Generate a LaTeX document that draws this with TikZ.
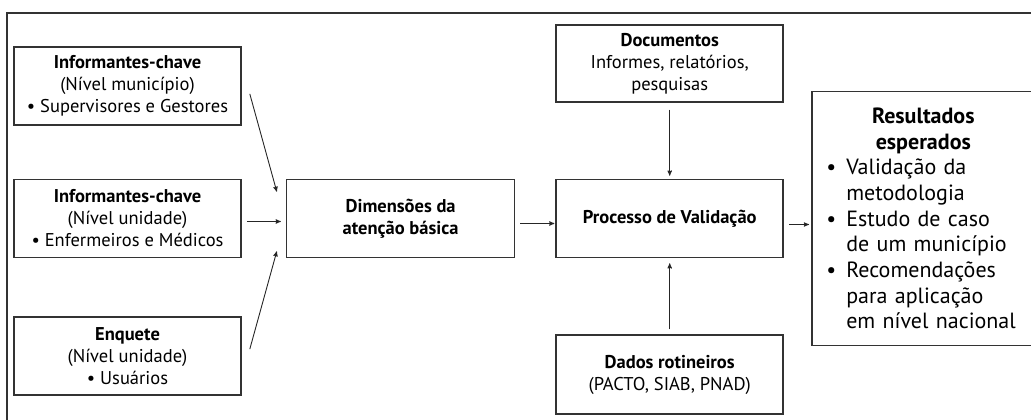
\documentclass[tikz,border=0pt]{standalone}
\usepackage{fontspec}
\setmainfont{PT Sans}
\usetikzlibrary{arrows,positioning}

\newcommand{\rbul}{\makebox[20pt][l]{•}}
\newcommand{\rind}{\hspace*{20pt}}

\begin{document}
\begin{tikzpicture}[x=1pt,y=-1pt,>=stealth',semithick,
    box/.style={draw=black!80,line width=1.6pt,minimum width=227pt,
                minimum height=78pt,align=center,inner sep=2pt,
                font=\fontsize{18.5}{22}\selectfont},
    resbox/.style={draw=black!80,line width=1.6pt,minimum width=223pt,
                   minimum height=254pt,text width=194pt,align=left,
                   inner sep=2pt,font=\fontsize{22}{25.7}\selectfont},
    link/.style={->,line width=0.9pt,draw=black!85}]

  \useasboundingbox (0,0) rectangle (1031,420);
  \draw[line width=1.3pt,black!80] (1035,13) -- (7,13) -- (7,424);

  % entradas
  \node[box]              (B) at (127.5,218.5)
      {\textbf{Informantes-chave}\\(Nível unidade)\\• Enfermeiros e Médicos};
  \node[box]              (A) [above=53pt of B]
      {\textbf{Informantes-chave}\\(Nível município)\\• Supervisores e Gestores};
  \node[box]              (C) [below=58pt of B]
      {\textbf{Enquete}\\(Nível unidade)\\• Usuários};

  \node[box,minimum width=228pt] (D) [right=44pt of B]
      {\textbf{Dimensões da}\\\textbf{atenção básica}};
  \node[box]              (E) [right=40pt of D] {\textbf{Processo de Validação}};
  \node[box,minimum height=77pt] (F) [above=76pt of E]
      {\textbf{Documentos}\\Informes, relatórios,\\pesquisas};
  \node[box,minimum height=79pt] (G) [below=76pt of E]
      {\textbf{Dados rotineiros}\\(PACTO, SIAB, PNAD)};

  % resultados
  \node[resbox]           (H) [right=27pt of E]
      {\makebox[194pt]{\bfseries Resultados}\\
       \makebox[194pt]{\bfseries esperados}\\
       \rbul Validação da\\
       \rind metodologia\\
       \rbul Estudo de caso\\
       \rind de um município\\
       \rbul Recomendações\\
       \rind para aplicação\\
       \rind em nível nacional};

  \path ([xshift=8pt,yshift=-8pt]A.east) edge[link] ([xshift=-9pt,yshift=-13pt]D.north west)
        ([xshift=5pt,yshift=-3pt]B.east)  edge[link] ([xshift=-5pt,yshift=-3pt]D.west)
        ([xshift=8pt,yshift=7pt]C.east)   edge[link] ([xshift=-9pt,yshift=7pt]D.south west)
        ([xshift=5pt,yshift=-5pt]D.east)  edge[link] ([xshift=-1pt,yshift=-5pt]E.west)
        ([xshift=5pt,yshift=-6pt]E.east)  edge[link] ([xshift=-2pt,yshift=-6pt]H.west)
        ([yshift=-7pt]F.south)            edge[link] ([yshift=3pt]E.north)
        ([yshift=5pt]G.north)             edge[link] ([yshift=-5pt]E.south);
\end{tikzpicture}
\end{document}
